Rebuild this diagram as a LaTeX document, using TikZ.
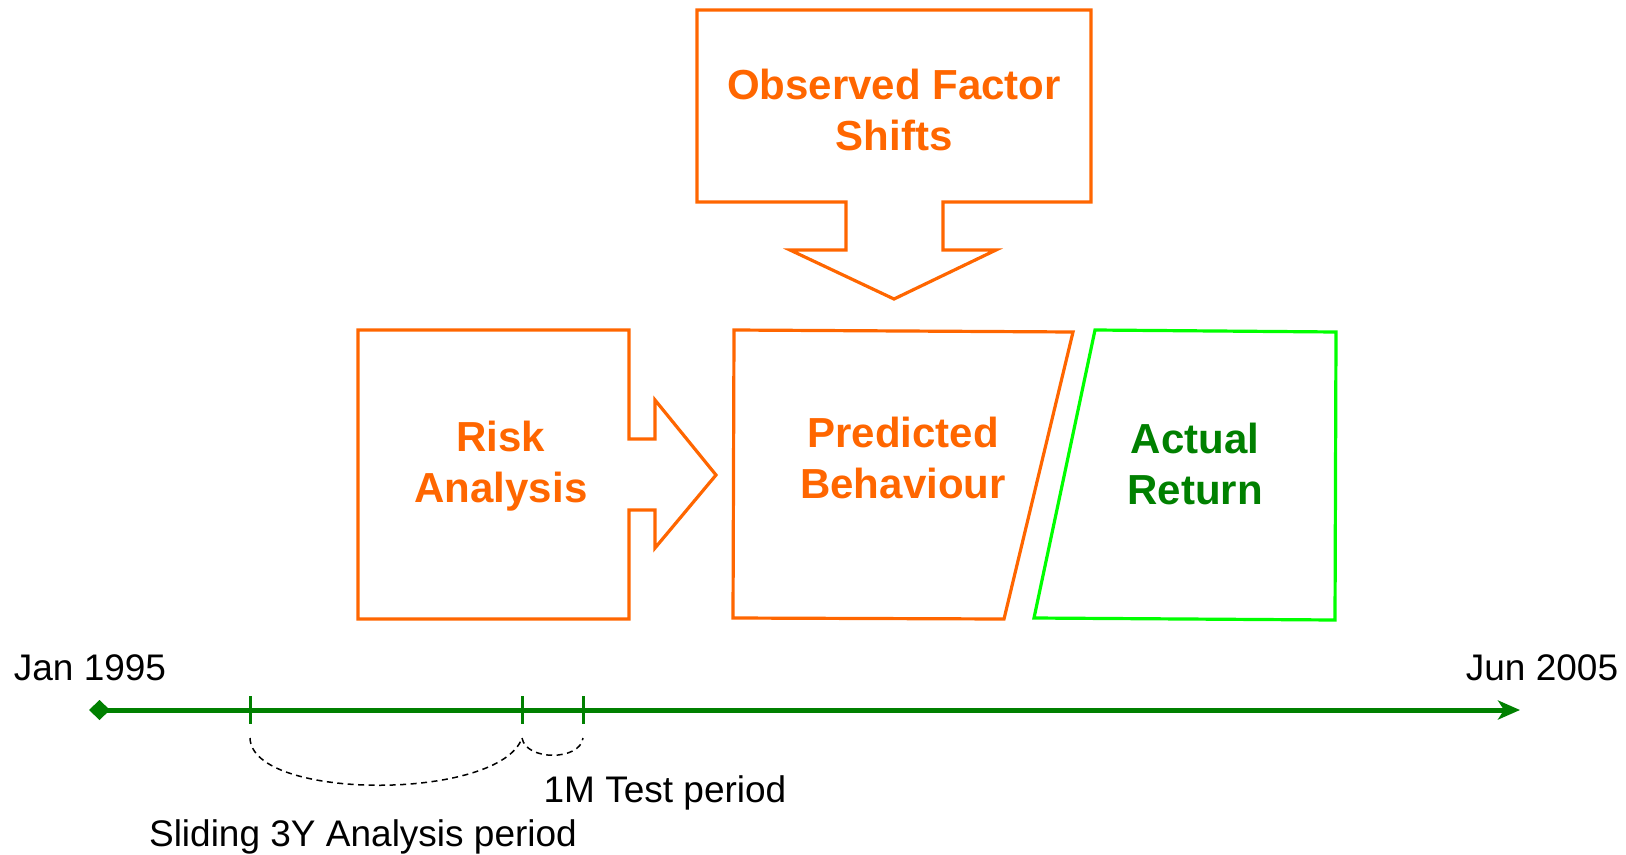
\documentclass[tikz,border=0pt]{standalone}
\usepackage{fontspec}
\setmainfont{Liberation Sans}
\usetikzlibrary{arrows.meta}
\definecolor{orng}{RGB}{255,102,0}
\definecolor{dgreen}{RGB}{0,128,0}
\definecolor{lgreen}{RGB}{0,255,0}
\begin{document}
\begin{tikzpicture}[x=1bp,y=-1bp,
  box/.style={draw=orng, line width=3.2bp, line join=miter},
  gbox/.style={draw=lgreen, line width=3.2bp, line join=miter},
  title/.style={font=\fontsize{42bp}{51bp}\selectfont\bfseries, align=center, inner sep=0pt},
  label/.style={font=\fontsize{37bp}{44bp}\selectfont, inner sep=0pt, anchor=base},
  axis/.style={draw=dgreen, line width=5bp},
  tickmark/.style={draw=dgreen, line width=3bp},
  span/.style={line width=1.5bp, dash pattern=on 6bp off 4.5bp}]
\useasboundingbox (0,0) rectangle (1626,854);

% block arrow pointing down
\draw[box] (697,10) -- (1091,10) -- (1091,202) -- (943,202) -- (943,250)
  -- (996,250) -- (894,299) -- (790,250) -- (846,250) -- (846,202)
  -- (697,202) -- cycle;
\node[title, text=orng] (obs) at (894,110) {Observed Factor\\Shifts};

% block arrow pointing right
\draw[box] (358,330) -- (629,330) -- (629,439) -- (655,439) -- (655,400)
  -- (716,475) -- (655,548) -- (655,510) -- (629,510) -- (629,619)
  -- (358,619) -- cycle;
\node[title, text=orng] (risk) at (501,466) {Risk\\Analysis};

% the two slanted panels
\draw[box] (734,330) -- (1073,332) -- (1004,619) -- (733,618) -- cycle;
\node[title, text=orng] (pred) at (903,458) {Predicted\\Behaviour};
\draw[gbox] (1095,330) -- (1336,332) -- (1335,620) -- (1034,618) -- cycle;
\node[title, text=dgreen] (act) at (1195,464) {Actual\\Return};

% time axis
\coordinate (t0) at (89,710);
\coordinate (t1) at (1520,710);
\draw[axis, {Diamond[length=21bp,width=20bp]}-{Stealth[length=22bp,width=19bp,inset=6bp]}] (t0) -- (t1);
\node[label] (start) at (90,680) {Jan 1995};
\node[label] (end) at (1542,680) {Jun 2005};

% period boundaries
\coordinate (k1) at (250,710);
\coordinate (k2) at (522,710);
\coordinate (k3) at (583,710);
\foreach \k in {k1,k2,k3}
  \draw[tickmark] ([yshift=14bp]\k) -- ([yshift=-14bp]\k);

% period braces
\coordinate (a1) at (250,738);
\coordinate (a2) at (522,738);
\coordinate (a3) at (583,738);
\draw[span] (a1) .. controls (252,801) and (500,801) .. (a2);
\draw[span] (a2) .. controls (526,761) and (580,761) .. (a3);
\node[label] (test) at (665,802) {1M Test period};
\node[label] (slide) at (363,846) {Sliding 3Y Analysis period};
\end{tikzpicture}
\end{document}
